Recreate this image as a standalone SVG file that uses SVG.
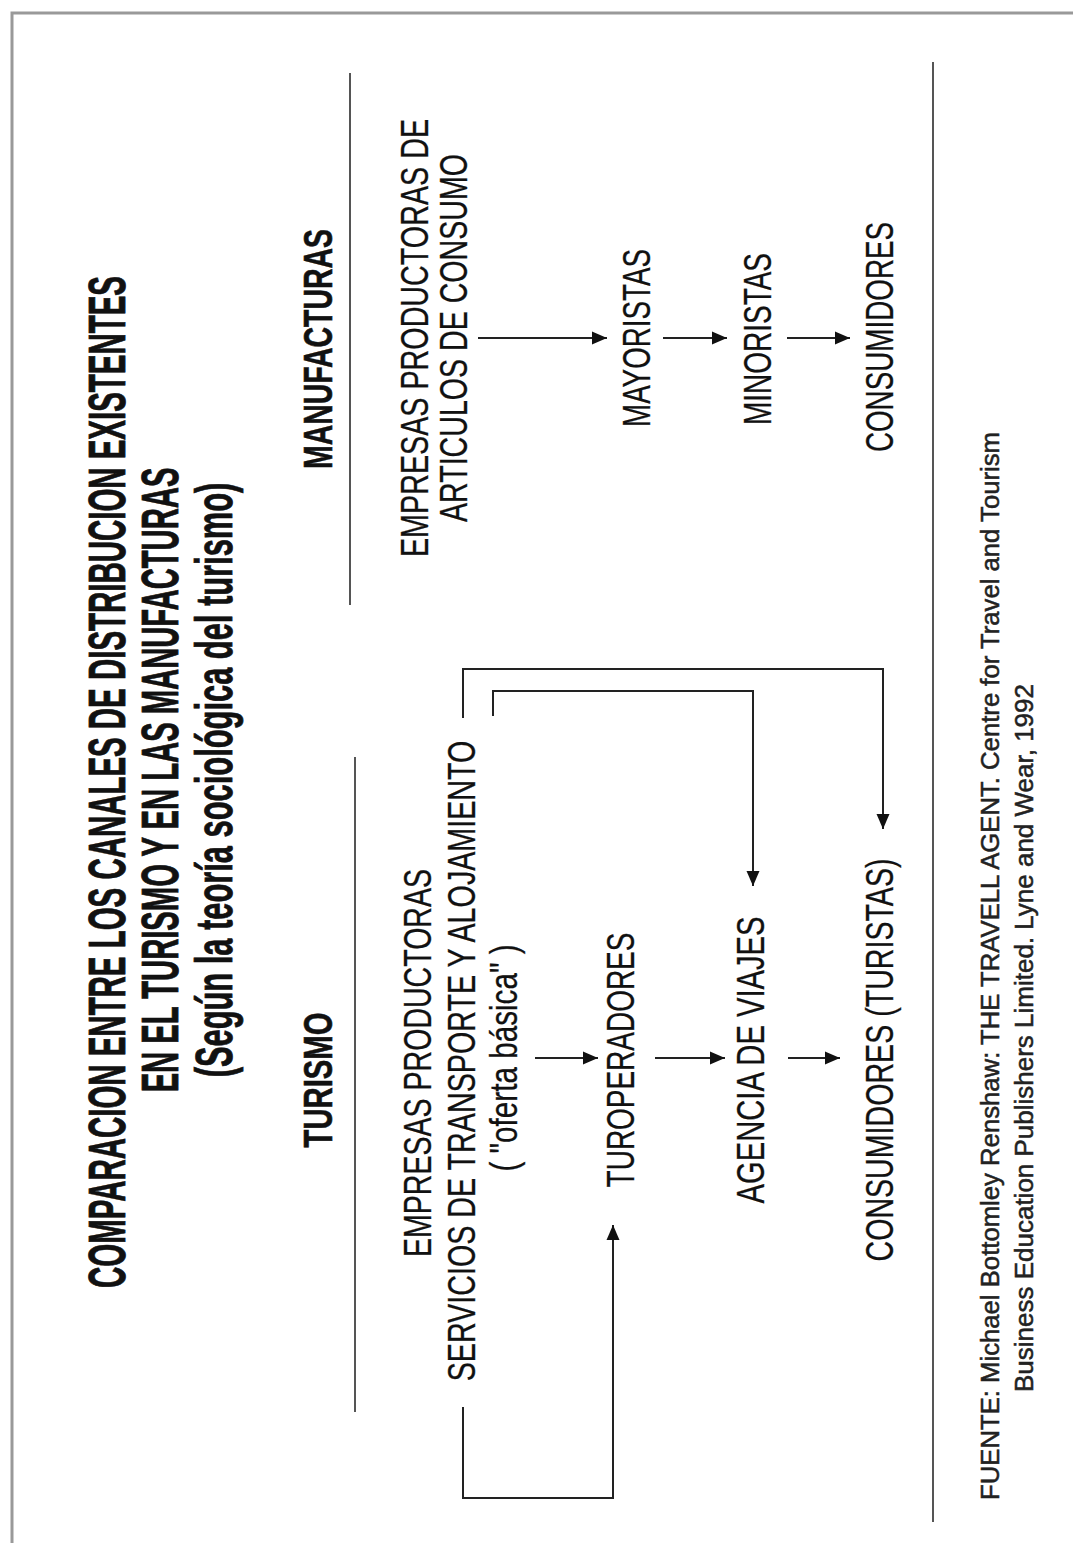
<svg xmlns="http://www.w3.org/2000/svg" width="1073" height="1543" viewBox="0 0 1073 1543">
<defs>
<marker id="ah" markerUnits="userSpaceOnUse" markerWidth="16" markerHeight="14" refX="15" refY="7" orient="auto">
<path d="M0,0.5 L15,7 L0,13.5 Z" fill="#111"/>
</marker>
<style>
.t{font-family:"Liberation Sans",Arial,sans-serif;font-weight:bold;font-size:51px;fill:#111;stroke:#111;stroke-width:0.8;text-anchor:middle}
.h{font-family:"Liberation Sans",Arial,sans-serif;font-weight:bold;font-size:40px;fill:#111;stroke:#111;stroke-width:0.6;text-anchor:middle}
.b{font-family:"Liberation Sans",Arial,sans-serif;font-size:38px;fill:#111;stroke:#111;stroke-width:0.3;text-anchor:middle}
.f{font-family:"Liberation Sans",Arial,sans-serif;font-size:25px;fill:#222;stroke:#222;stroke-width:0.5;text-anchor:start}
.rule{stroke:#555;stroke-width:2;fill:none}
.arr{stroke:#222;stroke-width:2;fill:none;marker-end:url(#ah)}
.border{stroke:#999;stroke-width:3;fill:none}
</style>
</defs>
<rect width="1073" height="1543" fill="#fff"/>
<path class="border" d="M12,1543 V13 H1073"/>

<g id="title">
<text class="t" transform="translate(125,782) rotate(-90) scale(0.573,1)" textLength="1766" lengthAdjust="spacingAndGlyphs">COMPARACION ENTRE LOS CANALES DE DISTRIBUCION EXISTENTES</text>
<text class="t" transform="translate(178,780) rotate(-90) scale(0.57,1)" textLength="1096" lengthAdjust="spacingAndGlyphs">EN EL TURISMO Y EN LAS MANUFACTURAS</text>
<text class="t" transform="translate(232,780) rotate(-90) scale(0.605,1)" textLength="983" lengthAdjust="spacingAndGlyphs">(Según la teoría sociológica del turismo)</text>
</g>

<g id="heading-manufacturas">
<text class="h" transform="translate(332,349) rotate(-90) scale(0.706,1)" textLength="340" lengthAdjust="spacingAndGlyphs">MANUFACTURAS</text>
</g>
<g id="heading-turismo">
<text class="h" transform="translate(332,1080) rotate(-90) scale(0.733,1)" textLength="184" lengthAdjust="spacingAndGlyphs">TURISMO</text>
</g>

<g id="rules">
<line class="rule" x1="350" y1="73" x2="350" y2="605"/>
<line class="rule" x1="355" y1="757" x2="355" y2="1412"/>
<line class="rule" x1="933" y1="62" x2="933" y2="1522"/>
</g>

<g id="m-empresas">
<text class="b" transform="translate(428,338) rotate(-90) scale(0.745,1)" textLength="588" lengthAdjust="spacingAndGlyphs">EMPRESAS PRODUCTORAS DE</text>
<text class="b" transform="translate(467,338) rotate(-90) scale(0.745,1)" textLength="494" lengthAdjust="spacingAndGlyphs">ARTICULOS DE CONSUMO</text>
</g>
<g id="m-mayoristas">
<text class="b" transform="translate(650,338) rotate(-90) scale(0.745,1)" textLength="239" lengthAdjust="spacingAndGlyphs">MAYORISTAS</text>
</g>
<g id="m-minoristas">
<text class="b" transform="translate(771,339) rotate(-90) scale(0.745,1)" textLength="231" lengthAdjust="spacingAndGlyphs">MINORISTAS</text>
</g>
<g id="m-consumidores">
<text class="b" transform="translate(893,337) rotate(-90) scale(0.745,1)" textLength="309" lengthAdjust="spacingAndGlyphs">CONSUMIDORES</text>
</g>

<g id="t-empresas">
<text class="b" transform="translate(431,1063) rotate(-90) scale(0.745,1)" textLength="521" lengthAdjust="spacingAndGlyphs">EMPRESAS PRODUCTORAS</text>
<text class="b" transform="translate(475,1061) rotate(-90) scale(0.745,1)" textLength="860" lengthAdjust="spacingAndGlyphs">SERVICIOS DE TRANSPORTE Y ALOJAMIENTO</text>
<text class="b" transform="translate(517,1058) rotate(-90) scale(0.745,1)" textLength="305" lengthAdjust="spacingAndGlyphs">( "oferta básica" )</text>
</g>
<g id="t-turoperadores">
<text class="b" transform="translate(634,1060) rotate(-90) scale(0.745,1)" textLength="342" lengthAdjust="spacingAndGlyphs">TUROPERADORES</text>
</g>
<g id="t-agencia">
<text class="b" transform="translate(764,1060) rotate(-90) scale(0.745,1)" textLength="385" lengthAdjust="spacingAndGlyphs">AGENCIA DE VIAJES</text>
</g>
<g id="t-consumidores">
<text class="b" transform="translate(893,1060) rotate(-90) scale(0.745,1)" textLength="541" lengthAdjust="spacingAndGlyphs">CONSUMIDORES (TURISTAS)</text>
</g>

<g id="connectors">
<line class="arr" x1="478" y1="338" x2="607" y2="338"/>
<line class="arr" x1="663" y1="338" x2="727" y2="338"/>
<line class="arr" x1="787" y1="338" x2="850" y2="338"/>
<line class="arr" x1="535" y1="1058" x2="598" y2="1058"/>
<line class="arr" x1="655" y1="1058" x2="725" y2="1058"/>
<line class="arr" x1="788" y1="1058" x2="840" y2="1058"/>
<path class="arr" d="M463,718 V669 H883 V829"/>
<path class="arr" d="M493,716 V691 H753 V886"/>
<path class="arr" d="M463,1407 V1498 H613 V1225"/>
</g>

<g id="footer">
<text class="f" transform="translate(999,1500) rotate(-90)" textLength="1068" lengthAdjust="spacingAndGlyphs">FUENTE: Michael Bottomley Renshaw: THE TRAVELL AGENT. Centre for Travel and Tourism</text>
<text class="f" transform="translate(1033,1392) rotate(-90)" textLength="708" lengthAdjust="spacingAndGlyphs">Business Education Publishers Limited. Lyne and Wear, 1992</text>
</g>
</svg>
